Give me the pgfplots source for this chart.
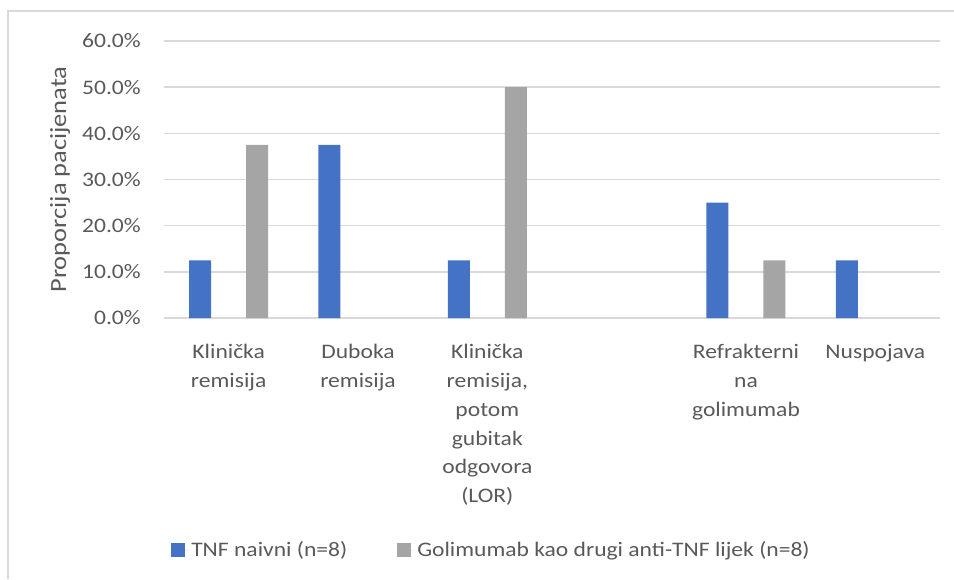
\documentclass[border=0pt]{standalone}
\usepackage{pgfplots}
\pgfplotsset{compat=1.18}
\usepackage{fontspec}
\setmainfont{Carlito}[FakeStretch=1.14]
\definecolor{barblue}{HTML}{4472C4}
\definecolor{bargray}{HTML}{A5A5A5}
\definecolor{txt}{HTML}{595959}
\definecolor{gridc}{HTML}{D9D9D9}
\begin{document}
\begin{tikzpicture}[x=1pt,y=1pt]
\useasboundingbox (-123,-195.75) rectangle (592.5,238.5);
\draw[gridc, line width=1.5pt] (-117,-195.75) -- (-117,230.25) -- (592.5,230.25);
\begin{axis}[
  at={(0,0)}, anchor=south west,
  scale only axis, width=582pt, height=207.75pt,
  ybar=26.25pt, bar width=16.5pt,
  xmin=-0.5, xmax=5.5, ymin=0, ymax=60,
  xtick={0,1,2,3,4,5},
  xticklabels={{Klinička\\remisija},{Duboka\\remisija},{Klinička\\remisija,\\potom\\gubitak\\odgovora\\(LOR)},{},{Refrakterni\\na\\golimumab},{Nuspojava}},
  ytick={0,10,20,30,40,50,60},
  yticklabels={0.0\%,10.0\%,20.0\%,30.0\%,40.0\%,50.0\%,60.0\%},
  axis line style={draw=none},
  major tick length=0pt,
  ymajorgrids, grid style={gridc, line width=1.2pt},
  tick label style={font=\fontsize{15.5}{21.6}\selectfont, text=txt},
  xticklabel style={align=center, inner sep=0pt, anchor=north, yshift=-19.5pt},
  yticklabel style={inner sep=0pt, anchor=east, xshift=-17.25pt},
  ylabel={Proporcija pacijenata},
  every axis y label/.style={at={(axis description cs:-0.134,0.5)}, rotate=90, anchor=center, font=\fontsize{17.4}{20}\selectfont, text=txt},
  legend columns=2,
  legend style={at={(axis description cs:0,0)}, anchor=west, xshift=5.25pt, yshift=-174pt, draw=none, fill=none, inner sep=0pt, font=\fontsize{15.5}{21}\selectfont, text=txt,
    nodes={inner sep=2pt},
    /tikz/every odd column/.append style={column sep=0pt},
    /tikz/every even column/.append style={column sep=35.5pt}},
  legend image code/.code={\fill[#1, draw=none] (0pt,-5.25pt) rectangle (10.5pt,5.25pt); \path (0pt,0pt) -- (13pt,0pt);},
]
\addplot[fill=barblue, draw=none] coordinates {(0,12.5) (1,37.5) (2,12.5) (4,25) (5,12.5)};
\addplot[fill=bargray, draw=none] coordinates {(0,37.5) (2,50) (4,12.5)};
\legend{TNF naivni (n=8), Golimumab kao drugi anti-TNF lijek (n=8)}
\end{axis}
\end{tikzpicture}
\end{document}
